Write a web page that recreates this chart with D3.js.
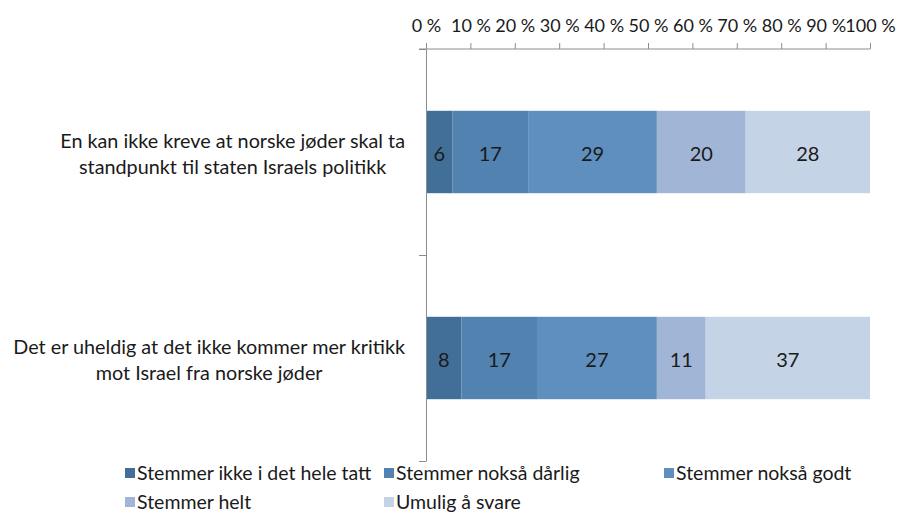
<!DOCTYPE html>
<html>
<head>
<meta charset="utf-8">
<script src="https://d3js.org/d3.v7.min.js"></script>
<style>
  body { margin: 0; background: #fff; }
  text { font-family: Lato, "Liberation Sans", sans-serif; fill: #1a1a1a; }
</style>
</head>
<body>
<script>
'use strict';
var WIDTH = 900, HEIGHT = 515;

// categories (top to bottom), each label split into lines
var categories = ['q1', 'q2'];
var categoryLines = [
  ['En kan ikke kreve at norske jøder skal ta', 'standpunkt til staten Israels politikk'],
  ['Det er uheldig at det ikke kommer mer kritikk', 'mot Israel fra norske jøder']
];
var seriesNames = ['Stemmer ikke i det hele tatt', 'Stemmer nokså dårlig', 'Stemmer nokså godt',
                   'Stemmer helt', 'Umulig å svare'];
var seriesColors = ['#426f98', '#5182b0', '#5f8fbf', '#a1b5d6', '#c5d3e6'];
var q1Values = [6, 17, 29, 20, 28];
var q2Values = [8, 17, 27, 11, 37];
var tickValues = [0, 10, 20, 30, 40, 50, 60, 70, 80, 90, 100];

var values = [q1Values, q2Values];

var svg = d3.select('body').append('svg')
  .attr('width', WIDTH)
  .attr('height', HEIGHT);

var x = d3.scaleLinear().domain([0, 100]).range([426, 870]);
var y = d3.scaleBand().domain(categories).range([49, 461])
  .paddingInner(0.6).paddingOuter(0.3);

// stacked bars
var stackData = categories.map(function (c, i) {
  var row = { cat: c };
  seriesNames.forEach(function (s, j) { row[s] = values[i][j]; });
  return row;
});
var stack = d3.stack().keys(seriesNames)(stackData);

var layers = svg.selectAll('g.layer')
  .data(stack)
  .enter().append('g')
  .attr('class', 'layer')
  .attr('fill', function (d, i) { return seriesColors[i]; });

layers.selectAll('rect')
  .data(function (d) { return d; })
  .enter().append('rect')
  .attr('x', function (d) { return x(d[0]); })
  .attr('y', function (d) { return y(d.data.cat); })
  .attr('width', function (d) { return x(d[1]) - x(d[0]); })
  .attr('height', y.bandwidth());

layers.selectAll('text')
  .data(function (d) { return d; })
  .enter().append('text')
  .attr('x', function (d) { return (x(d[0]) + x(d[1])) / 2; })
  .attr('y', function (d) { return y(d.data.cat) + y.bandwidth() / 2 + 9; })
  .attr('text-anchor', 'middle')
  .style('font-size', '20px')
  .text(function (d) { return d[1] - d[0]; });

// top axis
var xAxis = svg.append('g')
  .attr('transform', 'translate(0,49)')
  .call(d3.axisTop(x).tickValues(tickValues).tickSize(6).tickPadding(11)
    .tickFormat(function (d) { return d + ' %'; }));
xAxis.select('.domain').attr('stroke', '#8c8c8c').attr('d', 'M419,0H870');
xAxis.selectAll('.tick line').attr('stroke', '#8c8c8c');
xAxis.selectAll('.tick text')
  .style('font-size', '18px')
  .style('font-family', 'Lato, "Liberation Sans", sans-serif')
  .attr('fill', '#1a1a1a');

// left axis with ticks at category boundaries
var yEdge = d3.scaleLinear().domain([0, categories.length]).range([49, 461]);
var yAxis = svg.append('g')
  .attr('transform', 'translate(426,0)')
  .call(d3.axisLeft(yEdge).tickValues(d3.range(categories.length + 1))
    .tickSize(7).tickSizeOuter(0).tickFormat(''));
yAxis.select('.domain').attr('stroke', '#8c8c8c');
yAxis.selectAll('.tick line').attr('stroke', '#8c8c8c');

// category labels: block right-aligned at 405, lines centered inside block
categories.forEach(function (c, i) {
  var g = svg.append('g');
  var cy = y(c) + y.bandwidth() / 2;
  var lines = categoryLines[i];
  var texts = g.selectAll('text')
    .data(lines)
    .enter().append('text')
    .attr('y', function (d, k) { return cy - 4.5 + k * 26; })
    .attr('text-anchor', 'middle')
    .style('font-size', '19.8px')
    .text(function (d) { return d; });
  var maxW = d3.max(texts.nodes(), function (n) { return n.getComputedTextLength(); });
  texts.attr('x', 405 - maxW / 2);
});

// legend
var legendPos = [[125, 468], [384, 468], [664, 468], [125, 497], [384, 497]];
var legend = svg.selectAll('g.legend')
  .data(seriesNames)
  .enter().append('g')
  .attr('class', 'legend')
  .attr('transform', function (d, i) { return 'translate(' + legendPos[i][0] + ',' + legendPos[i][1] + ')'; });
legend.append('rect')
  .attr('width', 10).attr('height', 10)
  .attr('fill', function (d, i) { return seriesColors[i]; });
legend.append('text')
  .attr('x', 12).attr('y', 12)
  .style('font-size', '19.5px')
  .text(function (d) { return d; });
</script>
</body>
</html>
